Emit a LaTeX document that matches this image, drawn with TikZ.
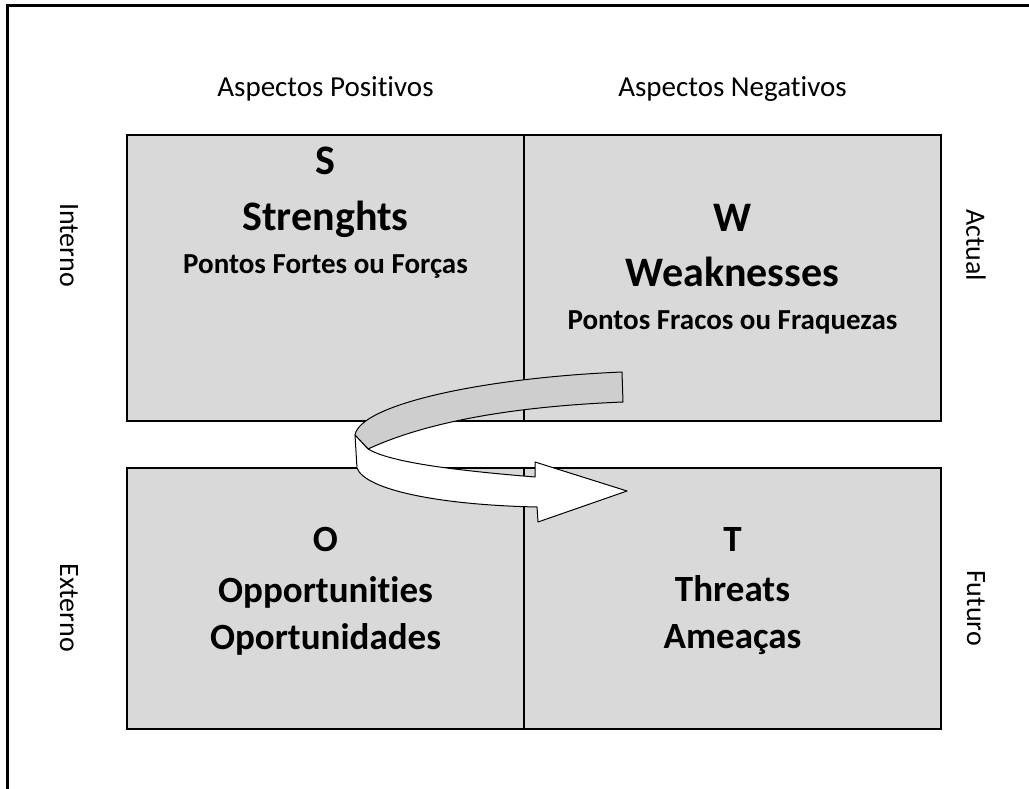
\documentclass[tikz,border=0pt]{standalone}
\usepackage{fontspec}
\setmainfont{Carlito}[Ligatures=NoCommon]
\usepackage{tikz}
\definecolor{cellgray}{HTML}{D9D9D9}
\definecolor{bandgray}{HTML}{CECECE}

\begin{document}
\begin{tikzpicture}[
        x=1pt, y=-1pt,
        cell/.style={draw, line width=1.3pt, fill=cellgray, inner sep=0pt, outer sep=0pt},
        head/.style={anchor=base, font=\fontsize{29}{35}\selectfont},
        side/.style={rotate=-90, font=\fontsize{28}{34}\selectfont},
        big/.style={anchor=base, font=\fontsize{42}{50}\selectfont\bfseries},
        mid/.style={anchor=base, font=\fontsize{37}{44}\selectfont\bfseries},
        small/.style={anchor=base, font=\fontsize{29}{35}\selectfont\bfseries},
        band/.style={draw, line width=1pt, line join=round}
        ]
    \useasboundingbox (0,0) rectangle (1029,789);
    % frame
    \draw[line width=3pt] (7,789) -- (7,6) -- (1029,6);
    % quadrants
    \node[cell, minimum width=397pt, minimum height=286pt] (S) at (325.5,278) {};
    \node[cell, minimum width=417pt, minimum height=286pt] (W) at (732.5,278) {};
    \node[cell, minimum width=397pt, minimum height=261pt] (O) at (325.5,598.5) {};
    \node[cell, minimum width=417pt, minimum height=261pt] (T) at (732.5,598.5) {};
    \draw[line width=2.3pt] (S.north west) rectangle (W.south east);
    \draw[line width=2.3pt] (O.north west) rectangle (T.south east);
    % labels round the grid
    \node[head] (pos) at (325.5,97) {Aspectos Positivos};
    \node[head] (neg) at (732.5,97) {Aspectos Negativos};
    \node[side] (int) at (69,245) {Interno};
    \node[side] (act) at (976,245) {Actual};
    \node[side] (ext) at (69,608) {Externo};
    \node[side] (fut) at (976,608) {Futuro};
    % texts in the quadrants
    \node[big] (s1) at (325.5,175) {S};
    \node[big] (s2) at (325.5,230) {Strenghts};
    \node[small] (s3) at (325.5,273) {Pontos Fortes ou Forças};
    \node[big] (w1) at (732.5,231) {W};
    \node[big] (w2) at (732.5,286) {Weaknesses};
    \node[small] (w3) at (732.5,329) {Pontos Fracos ou Fraquezas};
    \node[mid] (o1) at (325.5,551) {O};
    \node[mid] (o2) at (325.5,602) {Opportunities};
    \node[mid] (o3) at (325.5,649) {Oportunidades};
    \node[mid] (t1) at (732.5,551) {T};
    \node[mid] (t2) at (732.5,601) {Threats};
    \node[mid] (t3) at (732.5,648) {Ameaças};
    % curved arrow
    \filldraw[band, fill=bandgray] (622,372) -- (623,402)
        .. controls (500,407) and (420,425) .. (368,449) -- (355,435)
        .. controls (360,405) and (480,378) .. (622,372) -- cycle;
    \filldraw[band, fill=white] (355,435) -- (357,468)
        .. controls (365,490) and (440,505) .. (537,507) -- (538,522)
        -- (627,491) -- (535,462) -- (535,477)
        .. controls (450,470) and (390,462) .. (368,449) -- cycle;
\end{tikzpicture}
\end{document}
